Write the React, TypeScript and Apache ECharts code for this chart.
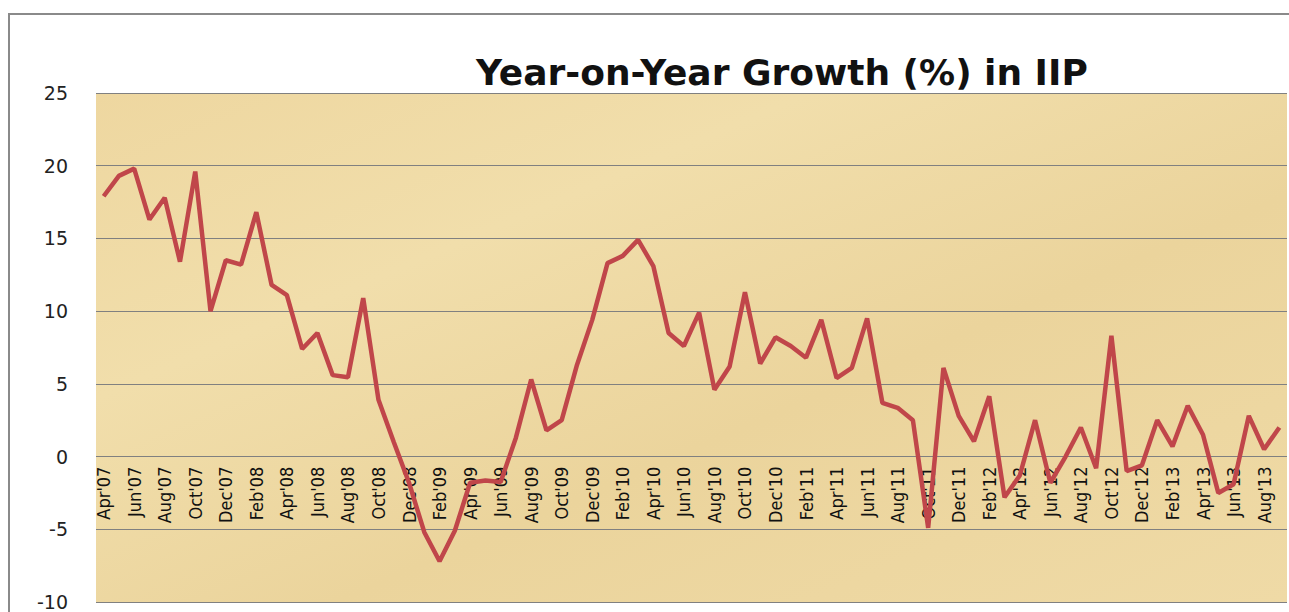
import React, { useEffect, useRef } from "react";
import * as echarts from "echarts";

const months = [
  "Apr'07","May'07","Jun'07","Jul'07","Aug'07","Sep'07","Oct'07","Nov'07","Dec'07","Jan'08","Feb'08","Mar'08",
  "Apr'08","May'08","Jun'08","Jul'08","Aug'08","Sep'08","Oct'08","Nov'08","Dec'08","Jan'09","Feb'09","Mar'09",
  "Apr'09","May'09","Jun'09","Jul'09","Aug'09","Sep'09","Oct'09","Nov'09","Dec'09","Jan'10","Feb'10","Mar'10",
  "Apr'10","May'10","Jun'10","Jul'10","Aug'10","Sep'10","Oct'10","Nov'10","Dec'10","Jan'11","Feb'11","Mar'11",
  "Apr'11","May'11","Jun'11","Jul'11","Aug'11","Sep'11","Oct'11","Nov'11","Dec'11","Jan'12","Feb'12","Mar'12",
  "Apr'12","May'12","Jun'12","Jul'12","Aug'12","Sep'12","Oct'12","Nov'12","Dec'12","Jan'13","Feb'13","Mar'13",
  "Apr'13","May'13","Jun'13","Jul'13","Aug'13","Sep'13",
];

const growth = [
  17.9, 19.3, 19.8, 16.3, 17.8, 13.4, 19.6, 10.0, 13.5, 13.2, 16.8, 11.8,
  11.1, 7.4, 8.5, 5.6, 5.45, 10.9, 3.9, 1.0, -1.8, -5.2, -7.2, -5.1,
  -1.8, -1.65, -1.75, 1.3, 5.3, 1.8, 2.5, 6.3, 9.4, 13.3, 13.8, 14.9,
  13.1, 8.5, 7.6, 9.9, 4.6, 6.2, 11.3, 6.4, 8.2, 7.6, 6.8, 9.4,
  5.4, 6.1, 9.5, 3.7, 3.35, 2.5, -4.9, 6.1, 2.8, 1.05, 4.15, -2.8,
  -1.3, 2.5, -1.8, 0.0, 2.0, -0.8, 8.3, -1.0, -0.6, 2.5, 0.7, 3.5,
  1.5, -2.5, -1.9, 2.8, 0.5, 2.0,
];

const yMin = -10;
const yMax = 25;
const yStep = 5;
const title = "Year-on-Year Growth (%) in IIP";

const GRID_TOP = 93;
const GRID_BOTTOM = 10;
const CHART_H = 612;

export default function App() {
  const ref = useRef<HTMLDivElement>(null);
  useEffect(() => {
    document.body.style.margin = "0";
    if (!ref.current) return;
    const chart = echarts.init(ref.current, null, { renderer: "svg" });
    const plotH = CHART_H - GRID_TOP - GRID_BOTTOM;
    const zeroOffset = -((0 - yMin) / (yMax - yMin)) * plotH;
    chart.setOption({
      animation: false,
      backgroundColor: "#ffffff",
      title: {
        text: title,
        left: 471,
        top: 49,
        textStyle: {
          fontFamily: "'DejaVu Sans', 'Open Sans', sans-serif",
          fontWeight: "bold",
          fontSize: 36,
          color: "#111111",
        },
      },
      graphic: [
        {
          type: "rect",
          shape: { x: 9, y: 14, width: 1300, height: 620 },
          style: { fill: "none", stroke: "#8a8a8a", lineWidth: 2 },
          silent: true,
          z: 10,
        },
      ],
      grid: {
        left: 96,
        right: 2,
        top: GRID_TOP,
        bottom: GRID_BOTTOM,
        containLabel: false,
        outerBoundsMode: "none",
        show: true,
        borderWidth: 0,
        backgroundColor: {
          type: "linear",
          x: 0, y: 0, x2: 1, y2: 1,
          colorStops: [
            { offset: 0, color: "#eed7a0" },
            { offset: 0.3, color: "#f1deab" },
            { offset: 0.6, color: "#ebd49c" },
            { offset: 1, color: "#efdaa6" },
          ],
        },
      },
      xAxis: {
        type: "category",
        data: months,
        boundaryGap: true,
        offset: zeroOffset,
        axisLine: { show: false, onZero: false },
        axisTick: { show: false },
        axisLabel: {
          rotate: 90,
          interval: 1,
          margin: 10,
          fontSize: 18,
          color: "#111111",
          fontFamily: "'Liberation Sans Narrow', 'DejaVu Sans Condensed', 'Arial Narrow', sans-serif",
        },
        splitLine: { show: false },
      },
      yAxis: {
        type: "value",
        min: yMin,
        max: yMax,
        interval: yStep,
        axisLine: { show: false },
        axisTick: { show: false },
        axisLabel: {
          margin: 28,
          fontSize: 19,
          color: "#222222",
          fontFamily: "'DejaVu Sans', Verdana, sans-serif",
        },
        splitLine: { show: true, lineStyle: { color: "#808080", width: 1 } },
      },
      series: [
        {
          type: "line",
          data: growth,
          symbol: "none",
          lineStyle: { color: "#c0464a", width: 4.5 },
          z: 5,
        },
      ],
    });
    return () => chart.dispose();
  }, []);
  return <div ref={ref} style={{ width: 1289, height: 612 }} />;
}
